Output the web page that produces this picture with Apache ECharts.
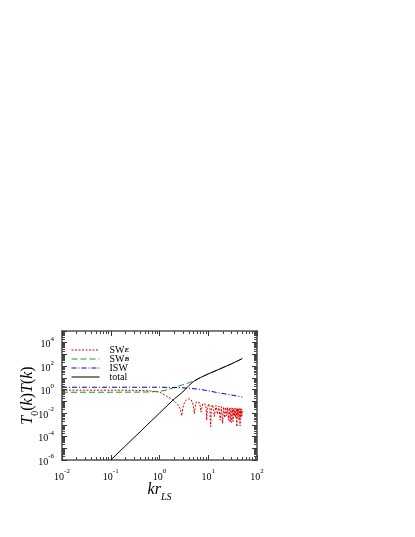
<!DOCTYPE html>
<html>
<head>
<meta charset="utf-8">
<script src="https://cdn.jsdelivr.net/npm/echarts@6/dist/echarts.min.js"></script>
<style>
  html, body { margin: 0; padding: 0; background: #fff; }
  #main { width: 415px; height: 537px; }
</style>
</head>
<body>
<div id="main"></div>
<script>
// k r_LS values and T0(k)T(k)
const kSwE = [0.01, 0.1, 0.3, 0.6, 1.0, 1.4, 2.0, 2.4, 2.7, 2.85, 3.1, 3.4, 3.9, 4.5, 4.9, 5.2, 5.4, 5.7, 6.1, 6.6, 6.9,
  7.1, 7.35, 7.7, 8.2, 8.8, 9.1, 9.3, 9.6, 10.2, 10.8, 11.2, 11.6, 12.2, 12.9, 13.3, 14.4, 15.5, 16.5, 17.6, 18.6,
  19.7, 20.7, 21.8, 22.8, 23.9, 24.9, 26.0, 27.0, 28.1, 29.1, 30.2, 31.2, 32.3, 33.3, 34.4, 35.4, 36.5, 37.5, 38.6,
  39.6, 40.7, 41.7, 42.8, 43.8, 44.9, 45.9, 47.0, 48.0, 49.1, 50.0];
const swE = [0.9, 0.9, 0.88, 0.8, 0.62, 0.28, 0.11, 0.05, 0.02, 0.006, 0.05, 0.11, 0.17, 0.13, 0.05, 0.009, 0.035, 0.09,
  0.115, 0.08, 0.032, 0.012, 0.025, 0.063, 0.083, 0.056, 0.02, 0.0025, 0.025, 0.063, 0.025, 0.0007, 0.025, 0.052,
  0.02, 0.005, 0.045, 0.008, 0.04, 0.0025, 0.035, 0.0013, 0.033, 0.004, 0.031, 0.006, 0.03, 0.0025, 0.029, 0.0016,
  0.028, 0.0016, 0.027, 0.002, 0.026, 0.006, 0.026, 0.004, 0.025, 0.0007, 0.025, 0.005, 0.024, 0.0025, 0.024,
  0.0008, 0.023, 0.004, 0.023, 0.006, 0.022];

const kSwB = [0.01, 0.1, 0.5, 1.0, 1.5, 2.0, 3.0, 4.0, 5.0, 7.0, 10, 15, 20, 30, 40, 50];
const swB = [0.6, 0.6, 0.62, 0.7, 1.0, 1.5, 2.6, 3.8, 5.4, 11, 22, 45, 76, 160, 280, 450];

const kIsw = [0.01, 0.1, 1.0, 2.5, 4.0, 6.3, 10, 16, 25, 40, 50];
const isw = [1.6, 1.6, 1.6, 1.5, 1.3, 1.1, 0.8, 0.54, 0.4, 0.28, 0.23];

const kTotal = [0.1, 0.2, 0.5, 1.0, 2.0, 3.0, 4.0, 5.0, 6.0, 7.0, 8.5, 10, 15, 20, 30, 40, 50];
const total = [1e-6, 1.6e-5, 6.25e-4, 0.01, 0.16, 0.63, 2.2, 5.0, 7.8, 11, 16, 22, 45, 76, 160, 280, 450];

const xLabels = [0.01, 0.1, 1, 10, 100];
const yLabels = [1e-6, 1e-4, 1e-2, 1, 1e2, 1e4];

const serif = '"Liberation Serif", "DejaVu Serif", serif';

function pairs(xs, ys) {
  return xs.map((x, i) => [x, ys[i]]);
}

function decades(lo, hi) {
  const out = [];
  for (let e = lo; e <= hi; e++) out.push(Math.pow(10, e));
  return out;
}

function minors(lo, hi) {
  const out = [];
  for (let e = lo; e < hi; e++) {
    for (let m = 2; m <= 9; m++) out.push(m * Math.pow(10, e));
  }
  return out;
}

function powLabel(v) {
  const e = Math.round(Math.log(v) / Math.LN10);
  return '{b|10}{s|' + e + '}';
}

const labelRich = {
  b: { fontFamily: serif, fontSize: 10, color: '#000', lineHeight: 14, verticalAlign: 'bottom' },
  s: { fontFamily: serif, fontSize: 7, color: '#000', lineHeight: 14, verticalAlign: 'top' },
};

function makeAxis(position, min, max, major, minor, labels, withLabels) {
  const main = {
    type: 'log',
    logBase: 10,
    position: position,
    min: min,
    max: max,
    gridIndex: 0,
    axisLine: { show: true, lineStyle: { color: '#555', width: 1.6 } },
    splitLine: { show: false },
    axisTick: {
      show: true, inside: true, length: 5,
      customValues: major,
      lineStyle: { color: '#333', width: 1 },
    },
    axisLabel: {
      show: withLabels,
      customValues: labels,
      formatter: powLabel,
      rich: labelRich,
      margin: 8,
    },
  };
  const sub = {
    type: 'log',
    logBase: 10,
    position: position,
    min: min,
    max: max,
    gridIndex: 0,
    axisLine: { show: false },
    splitLine: { show: false },
    axisTick: {
      show: true, inside: true, length: 3,
      customValues: minor,
      lineStyle: { color: '#444', width: 1 },
    },
    axisLabel: { show: false, customValues: labels },
  };
  return [main, sub];
}

const xMajor = decades(-2, 2);
const xMinor = minors(-2, 2);
const yMajor = decades(-6, 5);
const yMinor = minors(-6, 5);

const xAxes = [].concat(
  makeAxis('bottom', 0.01, 100, xMajor, xMinor, xLabels, true),
  makeAxis('top', 0.01, 100, xMajor, xMinor, xLabels, false)
);
const yAxes = [].concat(
  makeAxis('left', 1e-6, 1e5, yMajor, yMinor, yLabels, true),
  makeAxis('right', 1e-6, 1e5, yMajor, yMinor, yLabels, false)
);

xAxes[0].name = '{i|kr}{sub|LS}';
xAxes[0].nameLocation = 'middle';
xAxes[0].nameGap = 22;
xAxes[0].nameMoveOverlap = false;
xAxes[0].nameTextStyle = {
  rich: {
    i: { fontFamily: serif, fontStyle: 'italic', fontSize: 16, color: '#000', lineHeight: 20, verticalAlign: 'top' },
    sub: { fontFamily: serif, fontStyle: 'italic', fontSize: 10, color: '#000', lineHeight: 20, verticalAlign: 'bottom' },
  },
};

yAxes[0].name = '{i|T}{sub|0}{n|(}{i|k}{n|)}{i|T}{n|(}{i|k}{n|)}';
yAxes[0].nameLocation = 'middle';
yAxes[0].nameGap = 22;
yAxes[0].nameMoveOverlap = false;
yAxes[0].nameTextStyle = {
  rich: {
    i: { fontFamily: serif, fontStyle: 'italic', fontSize: 16, color: '#000', lineHeight: 20, verticalAlign: 'top' },
    n: { fontFamily: serif, fontSize: 16, color: '#000', lineHeight: 20, verticalAlign: 'top' },
    sub: { fontFamily: serif, fontSize: 10, color: '#000', lineHeight: 20, verticalAlign: 'bottom' },
  },
};

const legendNames = { SWE: 'SW{sub|E}', SWB: 'SW{sub|B}', ISW: 'ISW', total: 'total' };

const chartDom = document.getElementById('main');
const myChart = echarts.init(chartDom, null, { renderer: 'canvas' });

const option = {
  animation: false,
  backgroundColor: '#fff',
  grid: { left: 62, right: 158, top: 331, bottom: 77, containLabel: false },
  legend: {
    orient: 'vertical',
    left: 71,
    top: 345,
    itemWidth: 28,
    itemHeight: 7,
    itemGap: -1,
    padding: 0,
    data: ['SWE', 'SWB', 'ISW', 'total'],
    formatter: (name) => legendNames[name],
    itemStyle: { opacity: 0 },
    lineStyle: { width: 1 },
    textStyle: {
      fontFamily: serif,
      fontSize: 10,
      color: '#000',
      lineHeight: 8,
      padding: [0, 0, 0, 5],
      rich: {
        sub: { fontFamily: serif, fontStyle: 'italic', fontWeight: 'bold', fontSize: 7, color: '#000', verticalAlign: 'bottom', lineHeight: 8 },
      },
    },
  },
  xAxis: xAxes,
  yAxis: yAxes,
  series: [
    {
      name: 'SWE', type: 'line', showSymbol: false, symbol: 'none',
      data: pairs(kSwE, swE),
      lineStyle: { color: '#e00000', width: 1, type: [2, 1.5] },
      itemStyle: { color: '#e00000' },
    },
    {
      name: 'SWB', type: 'line', showSymbol: false, symbol: 'none',
      data: pairs(kSwB, swB),
      lineStyle: { color: '#10a010', width: 1, type: [6, 3] },
      itemStyle: { color: '#10a010' },
    },
    {
      name: 'ISW', type: 'line', showSymbol: false, symbol: 'none',
      data: pairs(kIsw, isw),
      lineStyle: { color: '#0000e0', width: 1, type: [5, 2, 1, 2] },
      itemStyle: { color: '#0000e0' },
    },
    {
      name: 'total', type: 'line', showSymbol: false, symbol: 'none',
      data: pairs(kTotal, total),
      lineStyle: { color: '#000', width: 1 },
      itemStyle: { color: '#000' },
    },
  ],
};

myChart.setOption(option);
window.addEventListener('resize', () => myChart.resize());
</script>
</body>
</html>
